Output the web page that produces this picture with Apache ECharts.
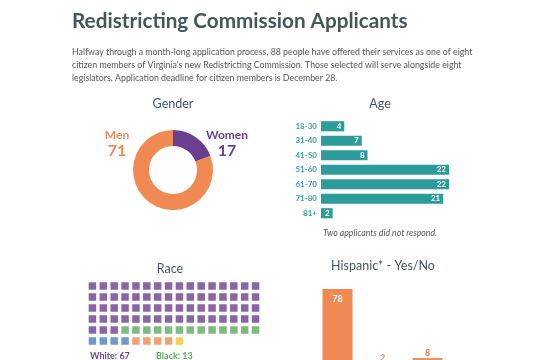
<!DOCTYPE html>
<html><head><meta charset="utf-8">
<script src="https://cdn.jsdelivr.net/npm/echarts@6/dist/echarts.min.js"></script>
<style>html,body{margin:0;padding:0;background:#fff}#c{width:537px;height:360px}</style>
</head><body><div id="c"></div>
<script>
const genderNames = ['Women', 'Men'];
const genderValues = [17, 71];
const ageCats = ['18-30', '31-40', '41-50', '51-60', '61-70', '71-80', '81+'];
const ageValues = [4, 7, 8, 22, 22, 21, 2];
const raceNames = ['White', 'Black', 'Asian', 'Multiracial', 'Other'];
const raceCounts = [67, 13, 4, 4, 1];
const hispCats = ['No', 'Yes', 'No answer'];
const hispValues = [78, 2, 8];

const ORANGE = '#f08a52', PURPLE = '#6b3f8f', TEAL = '#2e9b9b', GREEN = '#5fa860', BLUE = '#4a7fc1', YELLOW = '#f5c330';
const raceColors = [PURPLE, GREEN, BLUE, ORANGE, YELLOW];
const FONT = 'Lato';
const TITLE_C = '#45565a';

// waffle cells
const waffle = [];
let idx = 0;
raceCounts.forEach((n, ci) => {
  for (let k = 0; k < n; k++) {
    waffle.push({ value: [idx % 16 + 0.5, Math.floor(idx / 16) + 0.5], itemStyle: { color: raceColors[ci] } });
    idx++;
  }
});

const chart = echarts.init(document.getElementById('c'));
const sec = (text, x, y) => ({ text, left: x, top: y, padding: 0, textAlign: 'center', textStyle: { fontFamily: FONT, fontSize: 12.5, fontWeight: 'normal', color: TITLE_C } });
const gridBase = { outerBoundsMode: 'none', containLabel: false };

chart.setOption({
  animation: false,
  textStyle: { fontFamily: FONT },
  title: [
    { text: 'Redistricting Commission Applicants', left: 72, top: 11, padding: 0, textStyle: { fontFamily: FONT, fontSize: 20.7, fontWeight: 'bold', color: TITLE_C } },
    { text: "Halfway through a month-long application process, 88 people have offered their services as one of eight\ncitizen members of Virginia's new Redistricting Commission. Those selected will serve alongside eight\nlegislators. Application deadline for citizen members is December 28.", left: 72, top: 46, padding: 0, textStyle: { fontFamily: FONT, fontSize: 8.8, fontWeight: 'normal', color: '#555', lineHeight: 13 } },
    sec('Gender', 173, 97),
    sec('Age', 380, 97),
    sec('Race', 170, 262),
    sec('Hispanic* - Yes/No', 383, 259),
    { text: genderNames[1] + '\n{n|' + genderValues[1] + '}', left: 117, top: 128, padding: 0, textAlign: 'center', textStyle: { fontFamily: FONT, fontSize: 12, fontWeight: 'bold', color: ORANGE, lineHeight: 15, rich: { n: { fontSize: 16, fontWeight: 'bold', color: ORANGE, fontFamily: FONT } } } },
    { text: genderNames[0] + '\n{n|' + genderValues[0] + '}', left: 227, top: 128, padding: 0, textAlign: 'center', textStyle: { fontFamily: FONT, fontSize: 12, fontWeight: 'bold', color: PURPLE, lineHeight: 15, rich: { n: { fontSize: 16, fontWeight: 'bold', color: PURPLE, fontFamily: FONT } } } },
    { text: 'Two applicants did not respond.', left: 380, top: 229, padding: 0, textAlign: 'center', textStyle: { fontFamily: FONT, fontSize: 8.7, fontStyle: 'italic', fontWeight: 'normal', color: '#555' } },
    { text: raceNames[0] + ': ' + raceCounts[0], left: 90, top: 352, padding: 0, textStyle: { fontFamily: FONT, fontSize: 9, fontWeight: 'bold', color: PURPLE } },
    { text: raceNames[1] + ': ' + raceCounts[1], left: 156, top: 352, padding: 0, textStyle: { fontFamily: FONT, fontSize: 9, fontWeight: 'bold', color: GREEN } }
  ],
  grid: [
    Object.assign({ left: 321, top: 119, width: 128, height: 101.5 }, gridBase),
    Object.assign({ left: 87, top: 280.5, width: 174, height: 66 }, gridBase),
    Object.assign({ left: 315, top: 289, width: 135, height: 77 }, gridBase)
  ],
  xAxis: [
    { gridIndex: 0, type: 'value', min: 0, max: 22, show: false },
    { gridIndex: 1, type: 'value', min: 0, max: 16, show: false },
    { gridIndex: 2, type: 'category', data: hispCats, show: false }
  ],
  yAxis: [
    { gridIndex: 0, type: 'category', data: ageCats, inverse: true, axisLine: { show: false }, axisTick: { show: false },
      axisLabel: { color: '#3a9fa0', fontSize: 8, fontWeight: 'bold', fontFamily: FONT, margin: 4 } },
    { gridIndex: 1, type: 'value', min: 0, max: 6, inverse: true, show: false },
    { gridIndex: 2, type: 'value', min: 0, max: 78, show: false }
  ],
  series: [
    { type: 'pie', center: [173, 170], radius: [24, 40], startAngle: 90, clockwise: true, label: { show: false }, labelLine: { show: false },
      silent: true, data: genderNames.map((n, i) => ({ name: n, value: genderValues[i], itemStyle: { color: i === 0 ? PURPLE : ORANGE } })) },
    { type: 'bar', xAxisIndex: 0, yAxisIndex: 0, data: ageValues, barCategoryGap: '30%', itemStyle: { color: TEAL },
      label: { show: true, position: 'insideRight', color: '#fff', fontSize: 8, fontWeight: 'bold', fontFamily: FONT, distance: 3 } },
    { type: 'scatter', xAxisIndex: 1, yAxisIndex: 1, symbol: 'rect', symbolSize: 7.5, data: waffle },
    { type: 'bar', xAxisIndex: 2, yAxisIndex: 2, data: hispValues.map((v, i) => ({ value: v, label: i === 0 ? { position: 'insideTop', color: '#fff', distance: 6 } : { position: 'top', color: ORANGE, distance: 1 } })),
      barWidth: 30, itemStyle: { color: ORANGE },
      label: { show: true, fontSize: 9, fontWeight: 'bold', fontFamily: FONT } }
  ]
});
</script></body></html>
